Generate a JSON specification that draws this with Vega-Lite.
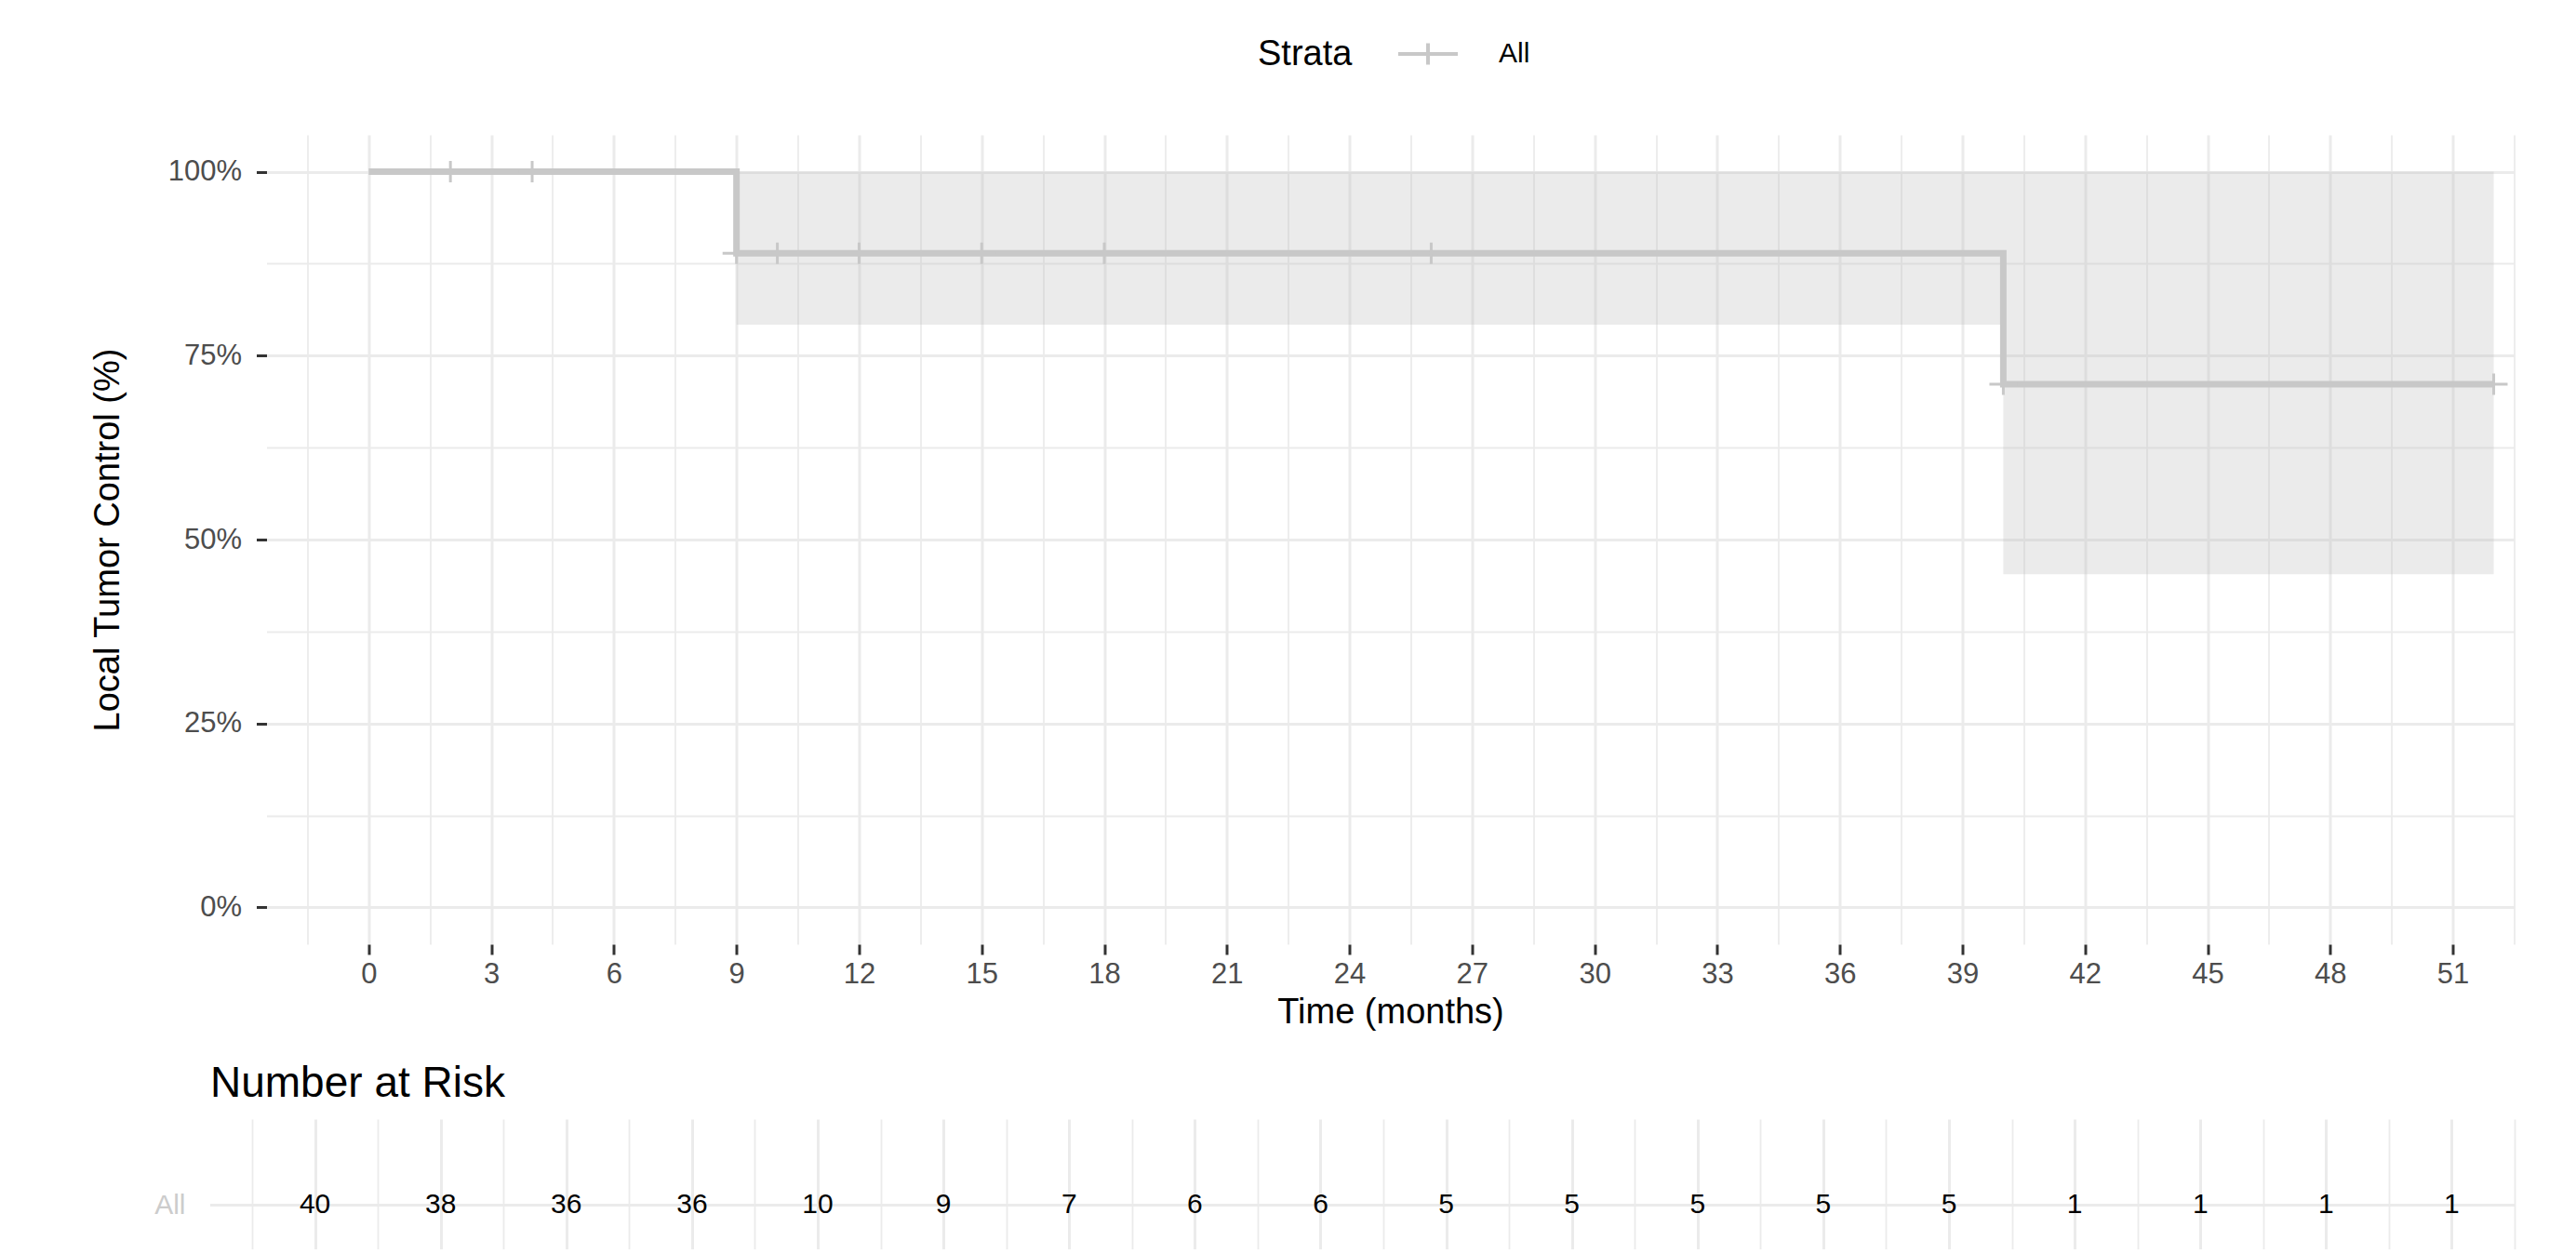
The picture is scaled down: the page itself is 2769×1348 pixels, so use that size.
{
  "$schema": "https://vega.github.io/schema/vega-lite/v6.json",
  "background": "white",
  "padding": {"left": 97, "top": 40, "right": 0, "bottom": 0},
  "bounds": "full",
  "center": true,
  "spacing": 35,
  "config": {
    "view": {"stroke": null},
    "font": "Liberation Sans"
  },
  "datasets": {
    "curve": [
      {"time": 0, "surv": 100, "strata": "All"},
      {"time": 9, "surv": 88.9, "strata": "All"},
      {"time": 40, "surv": 71.1, "strata": "All"},
      {"time": 52, "surv": 71.1, "strata": "All"}
    ],
    "band": [
      {"time": 0, "lower": 100, "upper": 100},
      {"time": 9, "lower": 79.2, "upper": 100},
      {"time": 40, "lower": 45.3, "upper": 100},
      {"time": 52, "lower": 45.3, "upper": 100}
    ],
    "censor": [
      {"time": 2, "surv": 100},
      {"time": 4, "surv": 100},
      {"time": 9, "surv": 88.9},
      {"time": 10, "surv": 88.9},
      {"time": 12, "surv": 88.9},
      {"time": 15, "surv": 88.9},
      {"time": 18, "surv": 88.9},
      {"time": 26, "surv": 88.9},
      {"time": 40, "surv": 71.1},
      {"time": 52, "surv": 71.1}
    ],
    "risk": [
      {"time": 0, "n": 40, "strata": "All"},
      {"time": 3, "n": 38, "strata": "All"},
      {"time": 6, "n": 36, "strata": "All"},
      {"time": 9, "n": 36, "strata": "All"},
      {"time": 12, "n": 10, "strata": "All"},
      {"time": 15, "n": 9, "strata": "All"},
      {"time": 18, "n": 7, "strata": "All"},
      {"time": 21, "n": 6, "strata": "All"},
      {"time": 24, "n": 6, "strata": "All"},
      {"time": 27, "n": 5, "strata": "All"},
      {"time": 30, "n": 5, "strata": "All"},
      {"time": 33, "n": 5, "strata": "All"},
      {"time": 36, "n": 5, "strata": "All"},
      {"time": 39, "n": 5, "strata": "All"},
      {"time": 42, "n": 1, "strata": "All"},
      {"time": 45, "n": 1, "strata": "All"},
      {"time": 48, "n": 1, "strata": "All"},
      {"time": 51, "n": 1, "strata": "All"}
    ]
  },
  "vconcat": [
    {
      "width": 2416,
      "height": 870,
      "layer": [
        {
          "data": {"name": "band"},
          "mark": {"type": "area", "interpolate": "step-after", "color": "#BDBDBD", "opacity": 0.3},
          "encoding": {
            "x": {
              "field": "time", "type": "quantitative",
              "scale": {"domain": [-2.5, 52.5], "nice": false, "zero": false},
              "axis": {
                "orient": "bottom",
                "values": [-1.5, 0, 1.5, 3, 4.5, 6, 7.5, 9, 10.5, 12, 13.5, 15, 16.5, 18, 19.5, 21, 22.5, 24, 25.5, 27, 28.5, 30, 31.5, 33, 34.5, 36, 37.5, 39, 40.5, 42, 43.5, 45, 46.5, 48, 49.5, 51, 52.5],
                "labelExpr": "datum.value % 3 === 0 ? datum.label : ''",
                "labelOverlap": false,
                "labelFlush": false,
                "labelFontSize": 31,
                "labelColor": "#4D4D4D",
                "labelPadding": 6,
                "domain": false,
                "ticks": true,
                "tickSize": 11,
                "tickWidth": 3,
                "tickColor": "#333333",
                "tickOpacity": {"condition": {"test": "datum.value % 3 !== 0", "value": 0}, "value": 1},
                "grid": true,
                "gridColor": "#EBEBEB",
                "gridWidth": {"condition": {"test": "datum.value % 3 === 0", "value": 3}, "value": 1.8},
                "title": "Time (months)",
                "titleFontSize": 38,
                "titleFontWeight": "normal",
                "titleColor": "black",
                "titlePadding": 7
              }
            },
            "y": {
              "field": "lower", "type": "quantitative",
              "scale": {"domain": [-5, 105], "nice": false, "zero": false},
              "axis": {
                "orient": "left",
                "values": [0, 12.5, 25, 37.5, 50, 62.5, 75, 87.5, 100],
                "labelExpr": "datum.value % 25 === 0 ? datum.value + '%' : ''",
                "labelOverlap": false,
                "labelFlush": false,
                "labelFontSize": 31,
                "labelColor": "#4D4D4D",
                "labelPadding": 16,
                "domain": false,
                "ticks": true,
                "tickSize": 11,
                "tickWidth": 3,
                "tickColor": "#333333",
                "tickOpacity": {"condition": {"test": "datum.value % 25 !== 0", "value": 0}, "value": 1},
                "grid": true,
                "gridColor": "#EBEBEB",
                "gridWidth": {"condition": {"test": "datum.value % 25 === 0", "value": 3}, "value": 1.8},
                "title": "Local Tumor Control (%)",
                "titleFontSize": 38,
                "titleFontWeight": "normal",
                "titleColor": "black",
                "titleAngle": 270,
                "titleAlign": "center",
                "titleBaseline": "middle",
                "titleX": -170,
                "titleY": 435
              }
            },
            "y2": {"field": "upper"}
          }
        },
        {
          "data": {"name": "curve"},
          "mark": {"type": "line", "interpolate": "step-after", "strokeWidth": 7},
          "encoding": {
            "x": {"field": "time", "type": "quantitative"},
            "y": {"field": "surv", "type": "quantitative"},
            "color": {
              "field": "strata", "type": "nominal",
              "scale": {"range": ["#C8C8C8"]},
              "legend": {
                "orient": "none",
                "legendX": 1126,
                "legendY": -105,
                "direction": "horizontal",
                "title": "Strata",
                "titleOrient": "left",
                "titleFontSize": 38,
                "titleFontWeight": "normal",
                "titleColor": "black",
                "titlePadding": 63,
                "titleAnchor": "middle",
                "titleBaseline": "middle",
                "labelFontSize": 30,
                "labelColor": "black",
                "labelOffset": 58,
                "symbolType": "M-2,0H2M0,-0.72V0.72",
                "symbolSize": 1024,
                "symbolStrokeWidth": 4,
                "symbolStrokeColor": "#C8C8C8",
                "symbolFillColor": "transparent"
              }
            }
          }
        },
        {
          "data": {"name": "censor"},
          "mark": {"type": "point", "shape": "M-1.3,0H1.3M0,-1V1", "filled": false, "stroke": "#C8C8C8", "strokeWidth": 3, "size": 529, "opacity": 1},
          "encoding": {
            "x": {"field": "time", "type": "quantitative"},
            "y": {"field": "surv", "type": "quantitative"}
          }
        }
      ]
    },
    {
      "width": 2537,
      "height": 140,
      "title": {"text": "Number at Risk", "anchor": "start", "frame": "group", "fontSize": 46, "fontWeight": "normal", "color": "black", "offset": 14},
      "layer": [
        {
          "data": {"values": [{}]},
          "mark": {"type": "rule", "color": "#EBEBEB", "strokeWidth": 3},
          "encoding": {
            "x": {"datum": -2.5, "type": "quantitative"},
            "x2": {"datum": 52.5},
            "y": {"datum": "All", "type": "nominal"}
          }
        },
        {
          "data": {"name": "risk"},
          "mark": {"type": "text", "fontSize": 30, "color": "black", "baseline": "middle", "align": "center"},
          "encoding": {
            "x": {
              "field": "time", "type": "quantitative",
              "scale": {"domain": [-2.5, 53.832], "nice": false, "zero": false},
              "axis": {
                "values": [-1.5, 0, 1.5, 3, 4.5, 6, 7.5, 9, 10.5, 12, 13.5, 15, 16.5, 18, 19.5, 21, 22.5, 24, 25.5, 27, 28.5, 30, 31.5, 33, 34.5, 36, 37.5, 39, 40.5, 42, 43.5, 45, 46.5, 48, 49.5, 51, 52.5],
                "labels": false,
                "ticks": false,
                "domain": false,
                "grid": true,
                "gridColor": "#EBEBEB",
                "gridWidth": {"condition": {"test": "datum.value % 3 === 0", "value": 3}, "value": 1.8},
                "title": null
              }
            },
            "y": {
              "field": "strata", "type": "nominal",
              "scale": {"type": "point", "align": 0.66},
              "axis": {
                "title": null,
                "ticks": false,
                "domain": false,
                "labelFontSize": 30,
                "labelColor": "#CCCCCC",
                "labelPadding": 27,
                "grid": false
              }
            },
            "text": {"field": "n", "type": "quantitative"}
          }
        }
      ]
    }
  ]
}
